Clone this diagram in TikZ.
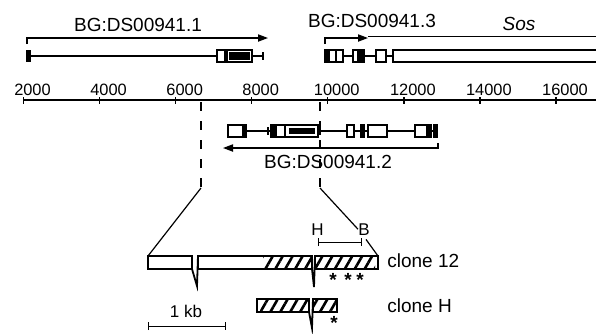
\documentclass[tikz,border=0pt]{standalone}
\usepackage{fontspec}
\setmainfont{Liberation Sans}
\usetikzlibrary{arrows.meta, positioning, patterns.meta}
\tikzset{
  exon/.style  = {draw, fill=white, line width=0.65pt},
  exonf/.style = {draw, fill=black, line width=0.65pt},
  intr/.style  = {line width=0.6pt},
  axl/.style   = {line width=0.65pt},
  sosl/.style  = {line width=0.8pt},
  dsh/.style   = {line width=0.6pt, dash pattern=on 4.5pt off 5pt},
  zln/.style   = {line width=0.6pt},
  cbox/.style  = {draw, line width=0.9pt},
  hatch/.style = {pattern={Lines[angle=60,distance=4.3pt,line width=1.3pt]}},
  gname/.style = {font=\fontsize{9.5}{11}\selectfont, anchor=base, inner sep=0pt},
  tlab/.style  = {font=\fontsize{8.2}{9}\selectfont, anchor=base, inner sep=0pt},
  clab/.style  = {font=\fontsize{9.5}{11}\selectfont, anchor=base west, inner sep=0pt},
  hb/.style    = {font=\fontsize{8.5}{10}\selectfont, anchor=base, inner sep=0pt},
  astk/.style  = {font=\fontsize{9.5}{10}\selectfont\bfseries, anchor=base, inner sep=0pt},
  fl/.style    = {-{Triangle[length=5pt,width=3.6pt]}, line width=0.65pt},
  hbar/.style  = {{Bar[width=4pt]}-{Bar[width=4pt]}, line width=0.5pt},
}
\begin{document}
\begin{tikzpicture}[x=0.5pt, y=-0.5pt]
  \useasboundingbox (0,0) rectangle (596,333);
  \clip (0,0) rectangle (596,333);
  % coordinate scale
  \draw[axl] (23,100) -- (600,100);
  \foreach \k/\lab in {0/2000,1/4000,2/6000,3/8000,4/10000,5/12000,6/14000,7/16000}{
    \draw[axl] ({23.5+76.07*\k},97) -- ({23.5+76.07*\k},104);
    \node[tlab] (t\k) at ({32.5+76.07*\k},95) {\lab};
  }
  % BG:DS00941.1
  \node[gname] (g1) at (138,31.5) {BG:DS00941.1};
  \coordinate (g1a) at (27,44); \coordinate (g1b) at (268,38);
  \draw[fl] (g1a) |- (g1b);
  \draw[intr] (30,56) -- (263,56) (263,52) -- (263,60);
  \draw[exonf] (27,51) rectangle (30,61);
  \draw[exon] (217,50) rectangle (225,62);
  \draw[exon] (227,50) rectangle (252,62);
  \fill (229,52) rectangle (250,60);
  % BG:DS00941.3 and Sos
  \node[gname] (g3) at (372,27) {BG:DS00941.3};
  \node[gname, font=\fontsize{9.5}{11}\selectfont\itshape] (sos) at (519,30) {Sos};
  \coordinate (g3a) at (325,44); \coordinate (g3b) at (368,38);
  \draw[fl] (g3a) |- (g3b);
  \coordinate (sosa) at (368,36.5); \coordinate (sosb) at (600,36.5);
  \draw[sosl] (sosa) -- (sosb);
  \draw[intr] (329,56) -- (393,56);
  \draw[exonf] (325,50) rectangle (329,62);
  \foreach \a/\b in {329/336,336/343,353/358,376/386,393/600}
    \draw[exon] (\a,50) rectangle (\b,62);
  \draw[exonf] (358,50) rectangle (364,62);
  % zoomed region
  \coordinate (zl0) at (201,102); \coordinate (zl1) at (201,188);
  \coordinate (zr0) at (320,102); \coordinate (zr1) at (320,188);
  \draw[dsh] (zl0) -- (zl1);
  \draw[dsh] (zr0) -- (zr1);
  % BG:DS00941.2
  \draw[intr] (228,131) -- (438,131);
  \foreach \u in {268,320} \draw[intr] (\u,127) -- (\u,135);
  \foreach \a/\b in {228/243,276/285,285/318,347/354,368/387,415/427}
    \draw[exon] (\a,125) rectangle (\b,137);
  \foreach \a/\b in {243/246,271/276,361/364,428/431,434/437}
    \draw[exonf] (\a,125) rectangle (\b,137);
  \fill (289,128) rectangle (315,134);
  \coordinate (g2a) at (438,143); \coordinate (g2b) at (223,148);
  \draw[fl] (g2a) |- (g2b);
  \node[gname] (g2) at (328,168) {BG:DS00941.2};
  % H and B sites
  \node[hb] (hH) at (317.5,235) {H};
  \node[hb] (hB) at (364,235) {B};
  \coordinate (hx) at (318,242); \coordinate (bx) at (362,242);
  \draw[hbar] (hx) -- (bx);
  \coordinate (c12a) at (148,256); \coordinate (c12b) at (378,256);
  \draw[zln] (zl1) -- (c12a);
  \draw[zln] (zr1) -- (hB.west);
  \draw[zln] ([shift={(2,4)}]hB.south) -- (c12b);
  % clone 12
  \fill[hatch] (263,256) rectangle (312,269);
  \fill[hatch] (315,256) rectangle (375,269);
  \draw[cbox] (c12a) rectangle (192,269);
  \draw[cbox] (198,256) rectangle (312,269);
  \draw[cbox] (315,256) rectangle (378,269);
  \draw[cbox] (192,269) -- (197,286) -- (198,256);
  \draw[cbox] (312,269) -- (314,287) -- (315,256);
  \node[clab] (c12) at (387,267) {clone 12};
  \foreach \x in {333,348,360} \node[astk] (s\x) at (\x,286) {*};
  % clone H
  \fill[hatch] (260,299) rectangle (309,312);
  \fill[hatch] (313,299) rectangle (337,312);
  \draw[cbox] (257,299) rectangle (309,312);
  \draw[cbox] (313,299) rectangle (337,312);
  \draw[cbox] (309,312) -- (312,328) -- (313,299);
  \node[clab] (cH) at (387,312) {clone H};
  \node[astk] (sH) at (334,329.5) {*};
  % 1 kb
  \node[hb] (kb) at (186,317) {1 kb};
  \coordinate (kb0) at (148,326); \coordinate (kb1) at (226,326);
  \draw[hbar] (kb0) -- (kb1);
\end{tikzpicture}
\end{document}
